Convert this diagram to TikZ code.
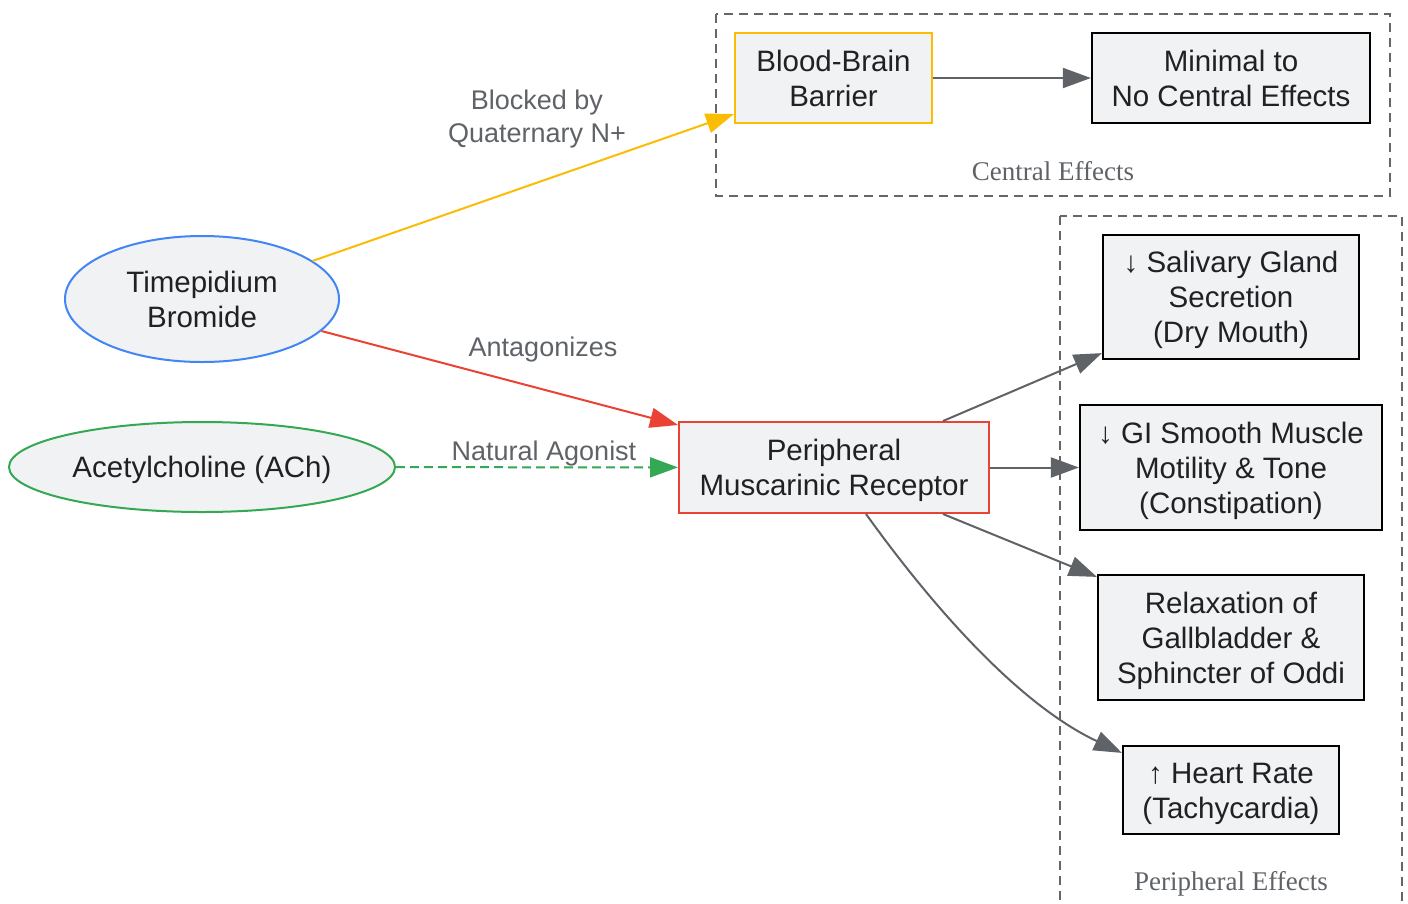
\documentclass[tikz,border=0pt]{standalone}
\usepackage{fontspec}
\setmainfont{Liberation Sans}
\newfontfamily\clusterfont{Liberation Serif}
\usetikzlibrary{arrows.meta,shapes.geometric}
\definecolor{gyel}{HTML}{FBBC04}
\definecolor{gred}{HTML}{EA4335}
\definecolor{ggreen}{HTML}{34A853}
\definecolor{gblue}{HTML}{4285F4}
\definecolor{ggray}{HTML}{5F6368}
\definecolor{nfill}{HTML}{F1F2F4}
\definecolor{ntext}{HTML}{202124}
\definecolor{cborder}{HTML}{666666}
\newcommand\nTop{\rule{0pt}{28pt}}
\newcommand\nBot{\rule[-7pt]{0pt}{7pt}}
\newcommand\eTop{\rule{0pt}{24pt}}
\newcommand\eBot{\rule[-7pt]{0pt}{7pt}}
\tikzset{
  nodetxt/.style={font=\fontsize{29.5}{35}\selectfont, text=ntext, align=center, inner sep=0pt},
  boxnode/.style={nodetxt, rectangle, fill=nfill, draw=black, line width=2.2pt},
  ellnode/.style={nodetxt, ellipse, fill=nfill, line width=2pt},
  edgelbl/.style={font=\fontsize{27}{33}\selectfont, text=ggray, align=center, inner sep=0pt},
  clusterbox/.style={draw=cborder, dash pattern=on 9pt off 6pt, line width=2pt},
  clusterlbl/.style={font=\clusterfont\fontsize{27}{30}\selectfont, text=ggray, inner sep=0pt},
  arr/.style={line width=2pt, -{Triangle[length=28pt,width=20pt]}},
}
\begin{document}
\begin{tikzpicture}[x=1pt,y=-1pt]
\clip (0,0) rectangle (1408,903);
\fill[white] (0,0) rectangle (1408,903);
% clusters
\draw[clusterbox] (716,14) rectangle (1390,196);
\node[clusterlbl] (clc) at (1053,171) {Central Effects};
\draw[clusterbox] (1060,216) rectangle (1402,920);
\node[clusterlbl] (clp) at (1231,884) {Peripheral Effects};
% nodes
\node[boxnode, draw=gyel, line width=2pt, minimum width=197pt, minimum height=90pt] (bbb) at (833.5,78) {\nTop Blood-Brain\\Barrier\nBot};
\node[boxnode, minimum width=278pt, minimum height=90pt] (mce) at (1231,78) {\nTop Minimal to\\No Central Effects\nBot};
\node[ellnode, draw=gblue, minimum width=274pt, minimum height=126pt] (tb) at (202,299) {\nTop Timepidium\\Bromide\nBot};
\node[ellnode, draw=ggreen, minimum width=386pt, minimum height=90pt] (ach) at (202,467) {\nTop Acetylcholine (ACh)\nBot};
\node[boxnode, draw=gred, line width=2pt, minimum width=310pt, minimum height=91pt] (rec) at (834,467.5) {\nTop Peripheral\\Muscarinic Receptor\nBot};
\node[boxnode, minimum width=256pt, minimum height=124pt] (sal) at (1231,297) {\nTop ↓ Salivary Gland\\Secretion\\(Dry Mouth)\nBot};
\node[boxnode, minimum width=302pt, minimum height=125pt] (gi) at (1231,467.5) {\nTop ↓ GI Smooth Muscle\\Motility \& Tone\\(Constipation)\nBot};
\node[boxnode, minimum width=266pt, minimum height=125pt] (rel) at (1231,637.5) {\nTop Relaxation of\\Gallbladder \&\\Sphincter of Oddi\nBot};
\node[boxnode, minimum width=216pt, minimum height=88pt] (hr) at (1231,790) {\nTop ↑ Heart Rate\\(Tachycardia)\nBot};
% edges
\draw[arr, gyel, line width=2pt] (tb.19) -- ([yshift=10pt]bbb.south west);
\node[edgelbl] (l1) at (537,117.5) {\eTop Blocked by\\Quaternary N+\eBot};
\draw[arr, gred] (tb.-15) -- ([yshift=-4pt]rec.north west);
\node[edgelbl] (l2) at (543,347.5) {\eTop Antagonizes\eBot};
\draw[arr, ggreen, dashed, dash pattern=on 9pt off 5pt] (ach) -- (rec);
\node[edgelbl] (l3) at (544,452) {\eTop Natural Agonist\eBot};
\draw[arr, ggray] (bbb) -- (mce);
\draw[arr, ggray] ([xshift=109pt]rec.north) -- ([yshift=7pt]sal.south west);
\draw[arr, ggray] (rec) -- (gi);
\draw[arr, ggray] ([xshift=109pt]rec.south) -- ([yshift=-3pt]rel.north west);
\draw[arr, ggray] ([xshift=32pt]rec.south) .. controls (935,610) and (1020,705) .. ([yshift=-8pt]hr.north west);
\end{tikzpicture}
\end{document}
